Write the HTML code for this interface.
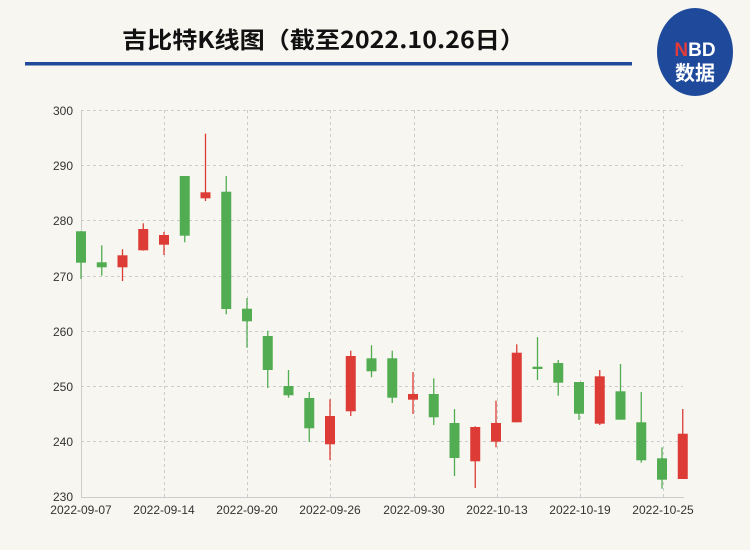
<!DOCTYPE html>
<html><head><meta charset="utf-8"><style>
html,body{margin:0;padding:0;background:#f8f6f1;}
svg{display:block;font-family:"Liberation Sans","Noto Sans CJK SC",sans-serif;}
</style></head><body>
<svg width="750" height="550" viewBox="0 0 750 550">
<rect width="750" height="550" fill="#f8f6f1"/>
<text x="122" y="48" font-size="23" font-weight="bold" fill="#111" textLength="403" lengthAdjust="spacingAndGlyphs" font-family="'Noto Sans CJK SC',sans-serif">吉比特K线图（截至2022.10.26日）</text>
<rect x="25" y="62" width="607" height="3.5" fill="#1f4a9c"/>
<ellipse cx="695" cy="52" rx="38" ry="44" fill="#1f4a9c"/>
<text x="695" y="56" font-size="19" font-weight="bold" text-anchor="middle" fill="#fff"><tspan fill="#e23b3b">N</tspan>BD</text>
<text x="695" y="80" font-size="20" font-weight="bold" text-anchor="middle" fill="#fff" font-family="'Noto Sans CJK SC',sans-serif">数据</text>
<g stroke="#ccc" stroke-dasharray="3,3" stroke-width="1">
<line x1="81" y1="110.5" x2="683" y2="110.5"/>
<line x1="81" y1="165.5" x2="683" y2="165.5"/>
<line x1="81" y1="220.5" x2="683" y2="220.5"/>
<line x1="81" y1="276.5" x2="683" y2="276.5"/>
<line x1="81" y1="331.5" x2="683" y2="331.5"/>
<line x1="81" y1="386.5" x2="683" y2="386.5"/>
<line x1="81" y1="441.5" x2="683" y2="441.5"/>
<line x1="164.5" y1="110" x2="164.5" y2="497"/>
<line x1="247.5" y1="110" x2="247.5" y2="497"/>
<line x1="330.5" y1="110" x2="330.5" y2="497"/>
<line x1="414.5" y1="110" x2="414.5" y2="497"/>
<line x1="497.5" y1="110" x2="497.5" y2="497"/>
<line x1="580.5" y1="110" x2="580.5" y2="497"/>
<line x1="663.5" y1="110" x2="663.5" y2="497"/>
</g>
<line x1="81.5" y1="110" x2="81.5" y2="497" stroke="#ccc"/>
<line x1="81" y1="497.5" x2="684" y2="497.5" stroke="#ccc"/>
<g font-size="12" fill="#333" text-anchor="end">
<text x="73" y="115">300</text><text x="73" y="170">290</text><text x="73" y="225">280</text>
<text x="73" y="281">270</text><text x="73" y="336">260</text><text x="73" y="391">250</text>
<text x="73" y="446">240</text><text x="73" y="501">230</text>
</g>
<g font-size="12" fill="#333" text-anchor="middle">
<text x="81" y="514">2022-09-07</text><text x="164" y="514">2022-09-14</text>
<text x="247" y="514">2022-09-20</text><text x="330" y="514">2022-09-26</text>
<text x="414" y="514">2022-09-30</text><text x="497" y="514">2022-10-13</text>
<text x="580" y="514">2022-10-19</text><text x="663" y="514">2022-10-25</text>
</g>
<g stroke="#52ad52" stroke-width="1.3">
<line x1="81" x2="81" y1="231" y2="279"/>
<line x1="101.75" x2="101.75" y1="245.3" y2="275.7"/>
<line x1="184.75" x2="184.75" y1="176" y2="242.3"/>
<line x1="226.25" x2="226.25" y1="176" y2="314.3"/>
<line x1="247" x2="247" y1="298" y2="347.7"/>
<line x1="267.75" x2="267.75" y1="330.7" y2="388"/>
<line x1="288.5" x2="288.5" y1="370" y2="397.7"/>
<line x1="309.25" x2="309.25" y1="392" y2="442"/>
<line x1="371.5" x2="371.5" y1="345.3" y2="377.3"/>
<line x1="392.25" x2="392.25" y1="350.7" y2="403"/>
<line x1="433.75" x2="433.75" y1="378.3" y2="425"/>
<line x1="454.5" x2="454.5" y1="409" y2="476"/>
<line x1="537.5" x2="537.5" y1="337" y2="380"/>
<line x1="558.25" x2="558.25" y1="360" y2="395.7"/>
<line x1="579" x2="579" y1="382" y2="420"/>
<line x1="620.5" x2="620.5" y1="364" y2="419.7"/>
<line x1="641.25" x2="641.25" y1="392" y2="462.7"/>
<line x1="662" x2="662" y1="447.3" y2="488.7"/>
</g>
<g fill="#52ad52">
<rect x="76" y="231.3" width="10" height="31.4"/>
<rect x="96.75" y="262.3" width="10" height="5"/>
<rect x="179.75" y="176" width="10" height="59.7"/>
<rect x="221.25" y="191.7" width="10" height="117.3"/>
<rect x="242" y="308.7" width="10" height="12.6"/>
<rect x="262.75" y="336" width="10" height="34"/>
<rect x="283.5" y="386" width="10" height="9.3"/>
<rect x="304.25" y="398" width="10" height="30.3"/>
<rect x="366.5" y="358.3" width="10" height="13"/>
<rect x="387.25" y="358.3" width="10" height="39.4"/>
<rect x="428.75" y="394" width="10" height="23.3"/>
<rect x="449.5" y="423" width="10" height="35"/>
<rect x="532.5" y="366.7" width="10" height="2.3"/>
<rect x="553.25" y="363" width="10" height="19.7"/>
<rect x="574" y="382" width="10" height="31.7"/>
<rect x="615.5" y="391.3" width="10" height="28.4"/>
<rect x="636.25" y="422.3" width="10" height="38"/>
<rect x="657" y="458.3" width="10" height="21.4"/>
</g>
<g stroke="#dc3c35" stroke-width="1.3">
<line x1="122.5" x2="122.5" y1="249.3" y2="281"/>
<line x1="143.25" x2="143.25" y1="223.3" y2="250.7"/>
<line x1="164" x2="164" y1="232" y2="255"/>
<line x1="205.5" x2="205.5" y1="133.7" y2="201"/>
<line x1="330" x2="330" y1="399.3" y2="460"/>
<line x1="350.75" x2="350.75" y1="350.7" y2="416"/>
<line x1="413" x2="413" y1="372" y2="414"/>
<line x1="475.25" x2="475.25" y1="426.3" y2="488"/>
<line x1="496" x2="496" y1="400.7" y2="447.3"/>
<line x1="516.75" x2="516.75" y1="344.3" y2="422.3"/>
<line x1="599.75" x2="599.75" y1="370" y2="425"/>
<line x1="682.75" x2="682.75" y1="409" y2="479"/>
</g>
<g fill="#dc3c35">
<rect x="117.5" y="255.3" width="10" height="12"/>
<rect x="138.25" y="229" width="10" height="21.3"/>
<rect x="159" y="235" width="10" height="9.7"/>
<rect x="200.5" y="192.3" width="10" height="6"/>
<rect x="325" y="416" width="10" height="28.3"/>
<rect x="345.75" y="356" width="10" height="55.3"/>
<rect x="408" y="394" width="10" height="5.7"/>
<rect x="470.25" y="427" width="10" height="34.3"/>
<rect x="491" y="423" width="10" height="18.7"/>
<rect x="511.75" y="352.7" width="10" height="69.6"/>
<rect x="594.75" y="376.3" width="10" height="47.4"/>
<rect x="677.75" y="433.7" width="10" height="45.3"/>
</g>
</svg>
</body></html>
